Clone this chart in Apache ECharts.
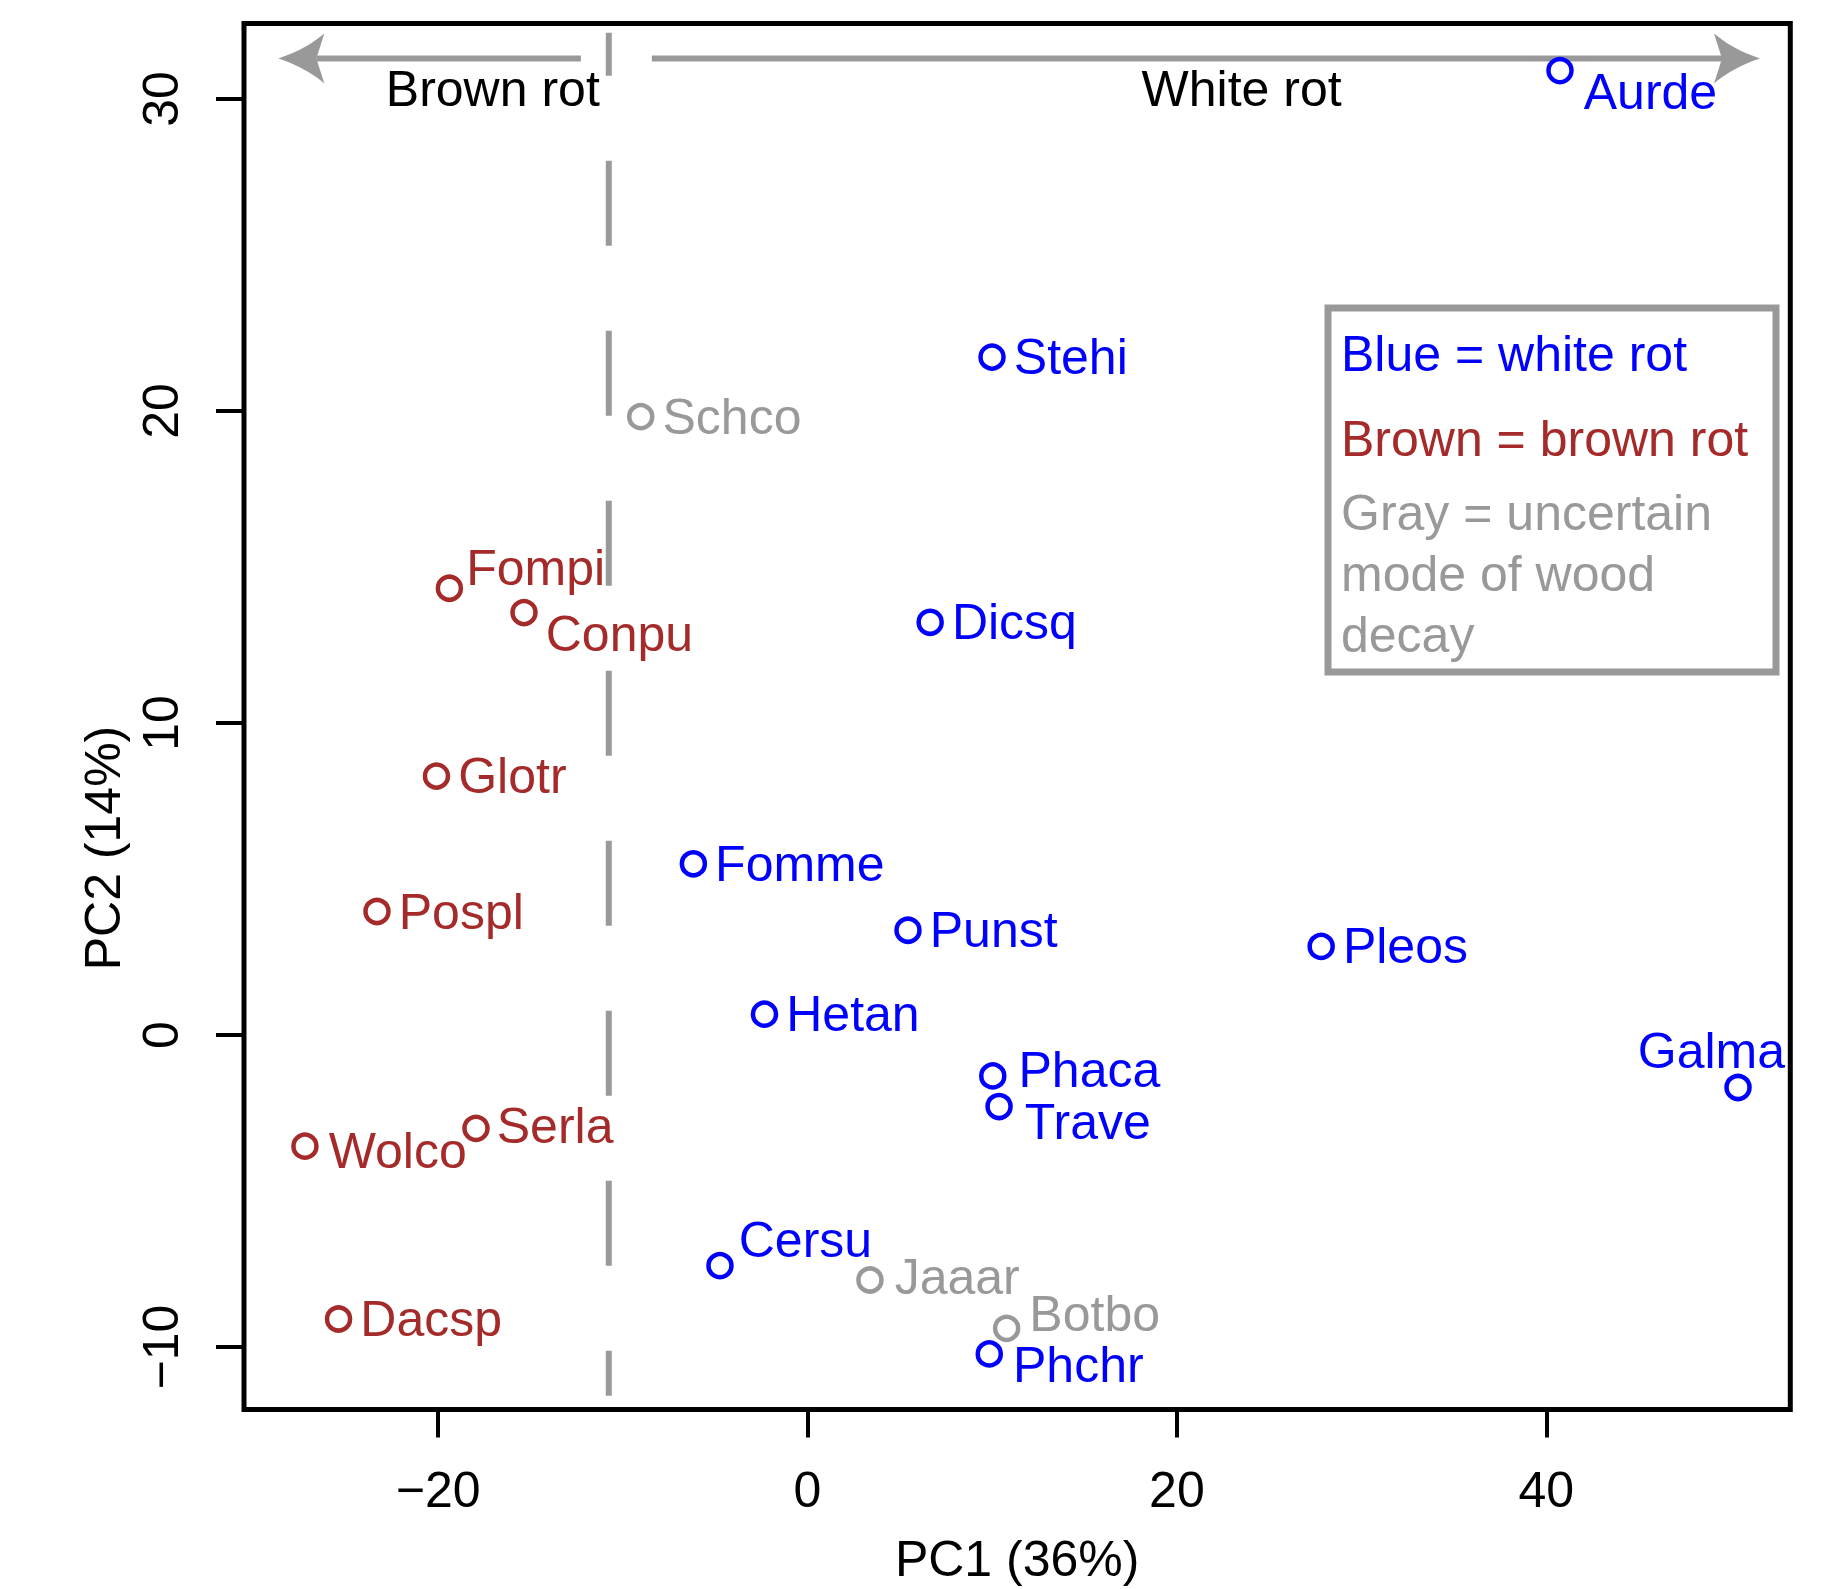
<!DOCTYPE html>
<html>
<head>
<meta charset="utf-8">
<script src="https://cdn.jsdelivr.net/npm/echarts@6/dist/echarts.min.js"></script>
<style>
html,body{margin:0;padding:0;background:#ffffff;}
#chart{width:1830px;height:1589px;}
</style>
</head>
<body>
<div id="chart"></div>
<script>
// ---------------- data ----------------
const whiteRotNames = ['Aurde','Stehi','Dicsq','Fomme','Punst','Pleos','Hetan','Galma','Phaca','Trave','Cersu','Phchr'];
const whiteRotX     = [40.74, 9.99, 6.64, -6.18, 5.44, 27.81, -2.33, 50.38, 10.03, 10.37, -4.74, 9.84];
const whiteRotY     = [30.91, 21.73, 13.23, 5.49, 3.36, 2.84, 0.67, -1.68, -1.31, -2.29, -7.39, -10.22];

const brownRotNames = ['Fompi','Conpu','Glotr','Pospl','Serla','Wolco','Dacsp'];
const brownRotX     = [-19.39, -15.35, -20.09, -23.31, -17.95, -27.21, -25.39];
const brownRotY     = [14.32, 13.54, 8.30, 3.96, -2.99, -3.56, -9.10];

const uncertainNames = ['Schco','Jaaar','Botbo'];
const uncertainX     = [-9.03, 3.38, 10.78];
const uncertainY     = [19.82, -7.85, -9.40];

const xTicks = [-20, 0, 20, 40];
const yTicks = [-10, 0, 10, 20, 30];
const xRange = [-30.51, 53.21];
const yRange = [-12.0, 32.42];

// annotation elements (data coordinates)
const dividerX = -10.76;
const dividerY = [32.12, -11.56];
const arrowY = 31.30;
const arrowStartX = [-12.27, -8.43];
const arrowTipX   = [-28.65, 51.57];
const regionNames = ['Brown rot', 'White rot'];
const regionX     = [-17.04, 23.5];
const regionY     = 30.32;

const legendTexts = ['Blue = white rot', 'Brown = brown rot', 'Gray = uncertain', 'mode of wood', 'decay'];

// ---------------- styling ----------------
const FONT = '"Liberation Sans", Arial, Helvetica, sans-serif';
const BLUE = '#0000FF', BROWN = '#A52A2A', GRAY = '#999999';
const legendColors = [BLUE, BROWN, GRAY, GRAY, GRAY];
const legendLineY = [354, 439, 513, 574, 635];

// label nudges in pixels, relative to default right-side placement
const labelNudge = {
  Aurde: [2, 21], Fompi: [-5, -20], Conpu: [0, 21], Galma: [-122, -36],
  Phaca: [4, -6], Trave: [4, 15], Serla: [-1, -2], Wolco: [2, 5],
  Cersu: [-3, -26], Jaaar: [3, -3], Botbo: [1, -14], Phchr: [2, 11]
};

function buildPoints(names, xs, ys) {
  return names.map((n, i) => ({
    name: n,
    value: [xs[i], ys[i]],
    label: { offset: labelNudge[n] || [0, 0] }
  }));
}

function scatterSeries(name, names, xs, ys, color) {
  return {
    name: name,
    type: 'scatter',
    data: buildPoints(names, xs, ys),
    symbol: 'circle',
    symbolSize: 23,
    itemStyle: { color: 'rgba(0,0,0,0)', borderColor: color, borderWidth: 4.5, opacity: 1 },
    label: {
      show: true, position: 'right', distance: 8, formatter: '{b}',
      color: color, fontSize: 50, lineHeight: 38, fontFamily: FONT, opacity: 1
    },
    emphasis: { disabled: true },
    z: 5
  };
}

function quadPoints(p0, c, p2, n) {
  const pts = [];
  for (let i = 0; i <= n; i++) {
    const t = i / n, u = 1 - t;
    pts.push([u*u*p0[0] + 2*u*t*c[0] + t*t*p2[0], u*u*p0[1] + 2*u*t*c[1] + t*t*p2[1]]);
  }
  return pts;
}

const arrowData = arrowStartX.map((s, i) => [s, arrowY, arrowTipX[i], arrowY]);

const chart = echarts.init(document.getElementById('chart'), null, { renderer: 'svg' });

const option = {
  animation: false,
  backgroundColor: '#ffffff',
  grid: {
    left: 244, right: 39.7, top: 23.5, bottom: 179.5,
    show: true, borderColor: '#000000', borderWidth: 5, backgroundColor: 'transparent'
  },
  xAxis: {
    type: 'value', min: xRange[0], max: xRange[1],
    name: 'PC1 (36%)', nameLocation: 'middle', nameGap: 124,
    nameTextStyle: { fontSize: 50, color: '#000', fontFamily: FONT },
    axisLine: { show: false, onZero: false },
    splitLine: { show: false },
    axisTick: { show: true, inside: false, length: 28, customValues: xTicks, lineStyle: { color: '#000', width: 4 } },
    axisLabel: {
      customValues: xTicks, margin: 55, fontSize: 50, color: '#000', fontFamily: FONT,
      formatter: v => String(v).replace('-', '\u2212')
    }
  },
  yAxis: {
    type: 'value', min: yRange[0], max: yRange[1],
    name: 'PC2 (14%)', nameLocation: 'middle', nameGap: 108,
    nameTextStyle: { fontSize: 50, color: '#000', fontFamily: FONT, padding: [0, 263, 0, 0] },
    axisLine: { show: false, onZero: false },
    splitLine: { show: false },
    axisTick: { show: true, inside: false, length: 28, customValues: yTicks, lineStyle: { color: '#000', width: 4 } },
    axisLabel: {
      customValues: yTicks, rotate: 90, margin: 58, fontSize: 50, color: '#000', fontFamily: FONT,
      formatter: v => String(v).replace('-', '\u2212')
    }
  },
  graphic: [
    {
      type: 'rect', z: 10,
      shape: { x: 1328, y: 308, width: 448, height: 364 },
      style: { fill: '#ffffff', stroke: GRAY, lineWidth: 7 }
    }
  ].concat(legendTexts.map((t, i) => ({
    type: 'text', z: 11, x: 1341, y: legendLineY[i],
    style: { text: t, fill: legendColors[i], fontSize: 50, fontFamily: FONT, align: 'left', verticalAlign: 'middle' }
  }))),
  series: [
    {
      name: 'divider', type: 'line',
      data: dividerY.map(y => [dividerX, y]),
      symbol: 'none',
      lineStyle: { color: GRAY, width: 6, type: [85, 85], dashOffset: 42, opacity: 1 },
      emphasis: { disabled: true }, silent: true, z: 2
    },
    {
      name: 'arrows', type: 'custom', silent: true, z: 2,
      data: arrowData,
      renderItem: function (params, api) {
        const p1 = api.coord([api.value(0), api.value(1)]);
        const p2 = api.coord([api.value(2), api.value(3)]);
        const d = p2[0] > p1[0] ? 1 : -1;
        const L = 46, W = 25, N = 38;
        const tip = p2;
        const up = quadPoints(tip, [tip[0] - d*27, tip[1] - 9], [tip[0] - d*L, tip[1] - W], 10);
        const dn = quadPoints([tip[0] - d*L, tip[1] + W], [tip[0] - d*27, tip[1] + 9], tip, 10);
        const pts = up.concat([[tip[0] - d*N, tip[1]]]).concat(dn);
        return {
          type: 'group',
          children: [
            { type: 'line', shape: { x1: p1[0], y1: p1[1], x2: tip[0] - d*N, y2: tip[1] },
              style: { stroke: GRAY, lineWidth: 6 } },
            { type: 'polygon', shape: { points: pts }, style: { fill: GRAY } }
          ]
        };
      }
    },
    {
      name: 'regions', type: 'scatter',
      data: regionNames.map((n, i) => ({ name: n, value: [regionX[i], regionY] })),
      symbolSize: 0,
      itemStyle: { opacity: 1 },
      label: { show: true, position: 'inside', formatter: '{b}', color: '#000', fontSize: 50, fontFamily: FONT, opacity: 1 },
      emphasis: { disabled: true }, silent: true, z: 3
    },
    scatterSeries('White rot', whiteRotNames, whiteRotX, whiteRotY, BLUE),
    scatterSeries('Brown rot', brownRotNames, brownRotX, brownRotY, BROWN),
    scatterSeries('Uncertain', uncertainNames, uncertainX, uncertainY, GRAY)
  ]
};

chart.setOption(option);
</script>
</body>
</html>
